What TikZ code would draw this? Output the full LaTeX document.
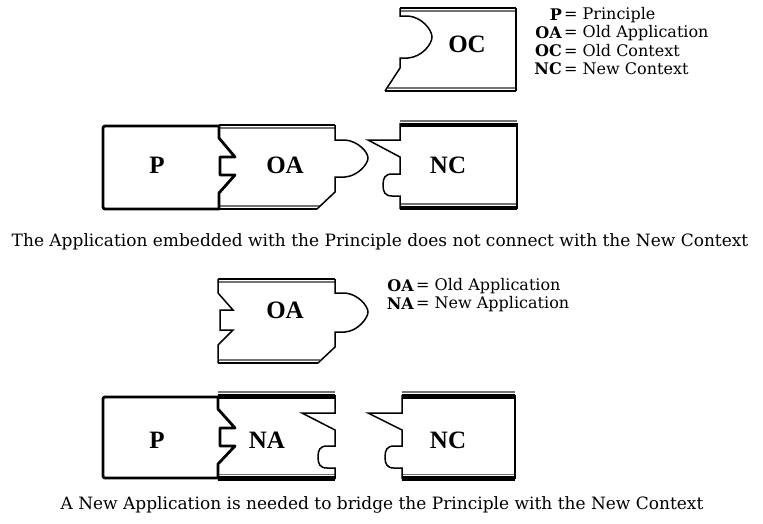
\documentclass[tikz,border=0pt]{standalone}
\usepackage{fontspec}
\setmainfont{DejaVu Serif}
\newfontfamily\labfont{Liberation Serif}
\begin{document}
\begin{tikzpicture}[x=1pt,y=-1pt,
  pline/.style={line width=2.8pt,line join=round,line cap=round},
  edge/.style={line width=1.5pt,line join=miter},
  blk/.style={line width=2.2pt,black},
  gry/.style={line width=1.8pt,black!55},
  thk/.style={line width=4.5pt,black},
  lab/.style={font=\labfont\fontsize{25}{25}\selectfont\bfseries,inner sep=0pt},
  txt/.style={font=\fontsize{17}{19}\selectfont,inner sep=0pt},
  abbr/.style={font=\fontsize{16}{18}\selectfont\bfseries,inner sep=1pt,anchor=east},
  defn/.style={font=\fontsize{16}{18}\selectfont,inner sep=1pt,anchor=west}]
\useasboundingbox (0,0) rectangle (763,523);
\fill[white] (0,0) rectangle (763,523);

% ---------- OC piece ----------
\draw[gry] (401,11) -- (516,11);
\draw[blk] (400,8) -- (516,8);
\draw[gry] (388,88) -- (516,88);
\draw[blk] (385,91) -- (516,91);
\draw[edge] (400,8) -- (400,16) -- (408,16) .. controls (422,17) and (432,30) .. (432,37)
  .. controls (432,44) and (422,57) .. (408,58) -- (400,58) -- (400,68) -- (385,91);
\draw[edge] (516,8) -- (516,91);
\node[lab] (oc) at (467,44) {OC};

% ---------- legend 1 ----------
\node[abbr] (lp) at (563,15) {P};   \node[defn] (lpd) at (563,15) {= Principle};
\node[abbr] (loa) at (563,33) {OA}; \node[defn] (load) at (563,33) {= Old Application};
\node[abbr] (loc) at (563,51) {OC}; \node[defn] (locd) at (563,51) {= Old Context};
\node[abbr] (lnc) at (563,69) {NC}; \node[defn] (lncd) at (563,69) {= New Context};

% ---------- top row: OA ----------
\draw[gry] (220,128) -- (335,128);
\draw[blk] (219,125) -- (335,125);
\draw[gry] (220,206) -- (320,206);
\draw[blk] (219,209) -- (317,209);
\draw[edge] (335,125) -- (335,140) -- (345,140) .. controls (358,141) and (368,152) .. (368,158)
  .. controls (368,164) and (358,176) .. (345,177) -- (335,177) -- (335,192) -- (317,209);
\node[lab] (oa1) at (285,165) {OA};

% ---------- top row: P ----------
\draw[pline,rounded corners=2pt] (219,126) -- (103,126) -- (103,209) -- (219,209);
\draw[pline] (219,126) -- (219,138) -- (235,157) -- (220,157) -- (220,175) -- (235,175) -- (219,193) -- (219,209);
\node[lab] (p1) at (157,165) {P};

% ---------- top row: NC ----------
\draw[gry] (400,121) -- (517,121);
\draw[thk] (400,125) -- (517,125);
\draw[gry] (400,204) -- (517,204);
\draw[thk] (400,208) -- (517,208);
\draw[edge] (400,123) -- (400,140) -- (368,140) -- (400,157) -- (400,174) -- (392,174)
  .. controls (385,174) and (383,178) .. (383,185) .. controls (383,192) and (385,196) .. (392,196)
  -- (400,196) -- (400,209);
\draw[edge] (517,123) -- (517,209);
\node[lab] (nc1) at (448,165) {NC};

\node[txt] (cap1) at (380,242) {The Application embedded with the Principle does not connect with the New Context};

% ---------- bottom: OA ----------
\draw[gry] (219,282) -- (335,282);
\draw[blk] (218,279) -- (335,279);
\draw[gry] (219,360) -- (320,360);
\draw[blk] (218,363) -- (318,363);
\draw[edge] (218,279) -- (218,293) -- (233,310) -- (220,310) -- (220,330) -- (233,330) -- (218,345) -- (218,363);
\draw[edge] (335,279) -- (335,293) -- (345,293) .. controls (358,294) and (368,306) .. (368,312)
  .. controls (368,318) and (358,331) .. (345,332) -- (335,332) -- (335,347) -- (318,363);
\node[lab] (oa2) at (285,310) {OA};

% ---------- legend 2 ----------
\node[abbr] (loa2) at (415,286) {OA}; \node[defn] (loa2d) at (415,286) {= Old Application};
\node[abbr] (lna2) at (415,304) {NA}; \node[defn] (lna2d) at (415,304) {= New Application};

% ---------- bottom row: NA ----------
\draw[gry] (218,392) -- (335,392);
\draw[thk] (218,396.5) -- (335,396.5);
\draw[gry] (218,474.5) -- (335,474.5);
\draw[thk] (218,478.5) -- (335,478.5);
\draw[edge] (335,395) -- (335,413) -- (302,413) -- (335,430) -- (335,446) -- (327,446)
  .. controls (320,446) and (318,450) .. (318,457) .. controls (318,464) and (320,468) .. (327,468)
  -- (335,468) -- (335,479);
\node[lab] (na) at (267,440) {NA};

% ---------- bottom row: P ----------
\draw[pline,rounded corners=2pt] (218,397) -- (103,397) -- (103,478) -- (218,478);
\draw[pline] (218,397) -- (218,409) -- (235,428) -- (220,428) -- (220,446) -- (235,446) -- (218,464) -- (218,478);
\node[lab] (p2) at (157,440) {P};

% ---------- bottom row: NC ----------
\draw[gry] (402,392) -- (515,392);
\draw[thk] (402,396.5) -- (515,396.5);
\draw[gry] (402,474.5) -- (515,474.5);
\draw[thk] (402,478.5) -- (515,478.5);
\draw[edge] (402,395) -- (402,413) -- (368,413) -- (402,430) -- (402,446) -- (394,446)
  .. controls (387,446) and (385,450) .. (385,457) .. controls (385,464) and (387,468) .. (394,468)
  -- (402,468) -- (402,479);
\draw[edge] (515,395) -- (515,479);
\node[lab] (nc2) at (448,440) {NC};

\node[txt] (cap2) at (382,505) {A New Application is needed to bridge the Principle with the New Context};
\end{tikzpicture}
\end{document}
